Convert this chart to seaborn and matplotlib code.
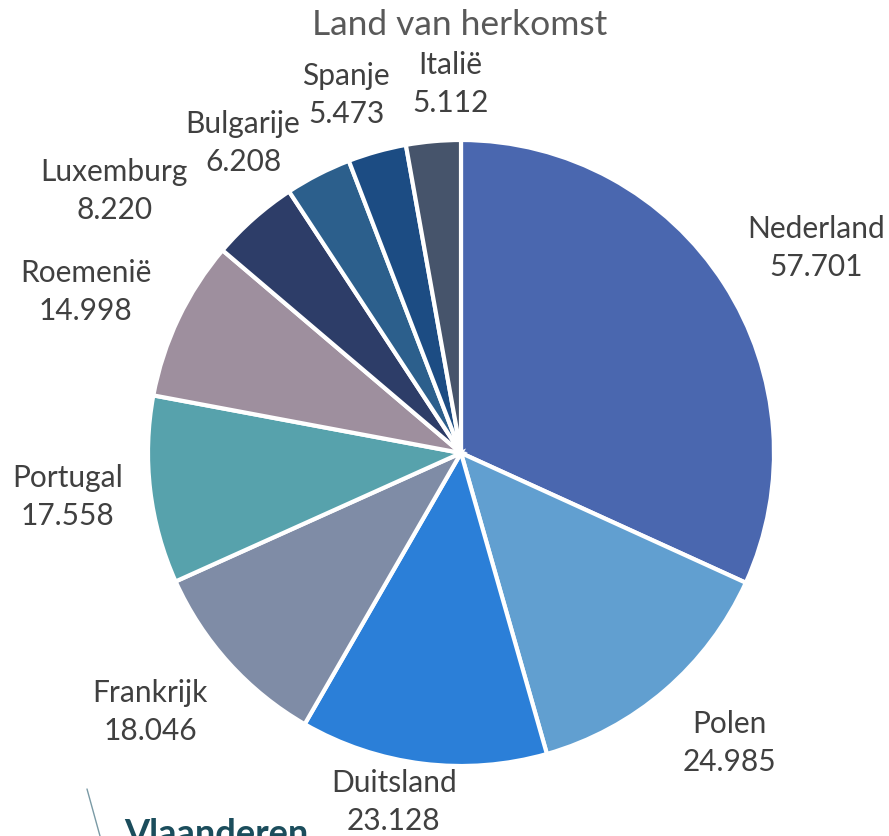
import matplotlib
matplotlib.use("Agg")
import matplotlib.pyplot as plt
import seaborn as sns
import numpy as np

countries = ["Nederland", "Polen", "Duitsland", "Frankrijk", "Portugal",
             "Roemenië", "Luxemburg", "Bulgarije", "Spanje", "Italië"]
values = [57701, 24985, 23128, 18046, 17558, 14998, 8220, 6208, 5473, 5112]
value_labels = ["57.701", "24.985", "23.128", "18.046", "17.558",
                "14.998", "8.220", "6.208", "5.473", "5.112"]
title = "Land van herkomst"

colors = ["#4A67AF", "#619FD0", "#2B7FD8", "#7F8CA6", "#57A2AC",
          "#9E8F9E", "#2D3D68", "#2C5F8C", "#1C4C83", "#46546B"]
# label placement (radius in pie radii, angle in degrees) -- style only
label_r = [1.310, 1.264, 1.135, 1.293, 1.264, 1.304, 1.389, 1.211, 1.201, 1.179]
label_a = [30.0, -47.2, 259.1, 219.8, 186.4, 156.8, 142.9, 125.1, 107.8, 91.6]

sns.set_theme(style="white")
plt.rcParams["font.family"] = ["Lato", "DejaVu Sans"]

W, H = 889, 836
fig = plt.figure(figsize=(W / 100, H / 100), dpi=100)
cx, cy, R = 461, 453, 313
ax = fig.add_axes([(cx - R) / W, (H - cy - R) / H, 2 * R / W, 2 * R / H])

wedges, _ = ax.pie(values, colors=colors, startangle=90, counterclock=False,
                   radius=1, wedgeprops=dict(edgecolor="white", linewidth=3))
ax.set_xlim(-1, 1)
ax.set_ylim(-1, 1)
ax.set_aspect("equal")
ax.axis("off")

for name, vl, r, a in zip(countries, value_labels, label_r, label_a):
    ang = np.deg2rad(a)
    ax.text(r * np.cos(ang), r * np.sin(ang), f"{name}\n{vl}",
            ha="center", va="center", fontsize=21.5, color="#404040",
            linespacing=1.45, clip_on=False)

fig.text(460 / W, 1 - 25 / H, title, ha="center", va="center",
         fontsize=25.5, color="#595959")

# Vlaanderen logo (partially visible at bottom)
fig.text(124 / W, 1 - 818 / H, "Vlaanderen", ha="left", va="top",
         fontsize=26, fontweight="bold", color="#1B4D5C")
fig.add_artist(plt.Line2D([87 / W, 100 / W], [1 - 789 / H, 0], color="#7A9AA5",
                          linewidth=1, transform=fig.transFigure))

fig.savefig("out.png", dpi=100)
